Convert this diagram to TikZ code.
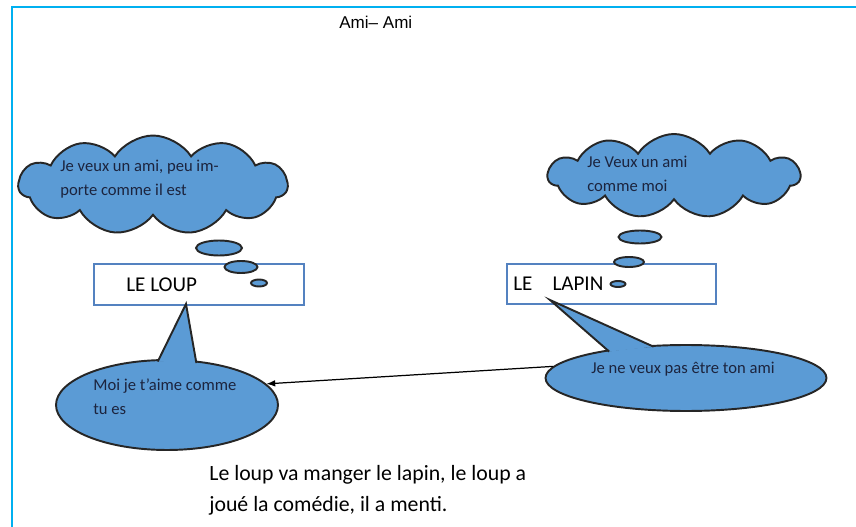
\documentclass[tikz,border=0pt]{standalone}
\usepackage{fontspec}
\setmainfont{Carlito}
\newfontfamily\titlefont{Liberation Sans}
\usetikzlibrary{shapes.geometric, shapes.symbols, arrows.meta, calc}
\definecolor{framecyan}{RGB}{0,176,240}
\definecolor{bubbleblue}{RGB}{91,155,213}
\definecolor{boxblue}{RGB}{84,130,192}
\definecolor{inknavy}{RGB}{28,36,62}

\begin{document}
\begin{tikzpicture}[x=0.02cm, y=-0.02cm,
  thought/.style={cloud, cloud puffs=11, cloud puff arc=115, cloud ignores aspect,
                  draw=black!85, fill=bubbleblue, line width=1.1pt, inner sep=0pt},
  puff/.style={ellipse, draw=black!85, fill=bubbleblue, line width=1.1pt, inner sep=0pt},
  speech/.style={ellipse, draw=black!85, fill=bubbleblue, line width=1.1pt, inner sep=0pt},
  tail/.style={draw=black!85, fill=bubbleblue, line width=1.1pt, line join=miter},
  namebox/.style={rectangle, draw=boxblue, line width=1.6pt, fill=white, inner sep=0pt},
  bubtext/.style={font=\fontsize{9.45}{13.7}\selectfont, text=inknavy, align=left,
                  inner sep=0pt, anchor=west},
  nametext/.style={font=\fontsize{12}{14}\selectfont, inner sep=0pt, anchor=west},
  storytext/.style={font=\fontsize{12.4}{17.6}\selectfont, align=left, inner sep=0pt, anchor=west},
  arr/.style={-{Latex[length=5pt]}, line width=0.7pt}
]
  \useasboundingbox (0,0) rectangle (856,527);
  \draw[framecyan, line width=1.2pt] (856,7) -| (12,527);
  \node[font=\titlefont\fontsize{9.7}{12}\selectfont, inner sep=0pt, anchor=west] (title) at (339,22) {Ami– Ami};

  % clouds
  \node[thought, minimum width=5.38cm, minimum height=1.98cm] (loupcloud) at (153,185) {};
  \node[thought, minimum width=5.04cm, minimum height=1.68cm] (lapincloud) at (674,176) {};
  \node[bubtext] (loupthink) at (60,179) {Je veux un ami, peu im-\\porte comme il est};
  \node[bubtext] (lapinthink) at (587,173.5) {Je Veux un ami\\comme moi};

  % name boxes
  \node[namebox, minimum width=4.2cm, minimum height=0.82cm] (loupbox) at (199,284.5) {};
  \node[namebox, minimum width=4.18cm, minimum height=0.8cm] (lapinbox) at (611.5,284) {};
  \node[nametext] (loup) at (126,285) {LE LOUP};
  \node[nametext] (lapin) at (513,284) {LE\hspace{11.4pt}LAPIN};

  % thought puffs
  \node[puff, minimum width=0.92cm, minimum height=0.3cm] (lp1) at (219,248) {};
  \node[puff, minimum width=0.66cm, minimum height=0.24cm] (lp2) at (241,267) {};
  \node[puff, minimum width=0.32cm, minimum height=0.14cm] (lp3) at (259,283) {};
  \node[puff, minimum width=0.86cm, minimum height=0.26cm] (rp1) at (640,237) {};
  \node[puff, minimum width=0.6cm, minimum height=0.2cm] (rp2) at (629,262) {};
  \node[puff, minimum width=0.3cm, minimum height=0.12cm] (rp3) at (618,284) {};

  % speech bubbles
  \node[speech, minimum width=4.44cm, minimum height=1.8cm] (lsay) at (167,405) {};
  \node[speech, minimum width=5.62cm, minimum height=1.32cm] (rsay) at (686,378) {};
  \coordinate (louptip) at (186,304);
  \coordinate (lapintip) at (550,300);
  \filldraw[tail] ($(lsay.102)!0.05!(lsay.center)$) -- (louptip) -- ($(lsay.55)!0.05!(lsay.center)$);
  \filldraw[tail] ($(rsay.161)!0.05!(rsay.center)$) -- (lapintip) -- ($(rsay.136)!0.05!(rsay.center)$);
  \node[bubtext] (loupsay) at (93,397) {Moi je t’aime comme\\tu es};
  \node[bubtext, anchor=center] (lapinsay) at (683,369) {Je ne veux pas être ton ami};

  \draw[arr] (rsay.175) -- (lsay.12);

  \node[storytext] (story) at (209,490.5) {Le loup va manger le lapin, le loup a\\joué la comédie, il a menti.};
\end{tikzpicture}
\end{document}
